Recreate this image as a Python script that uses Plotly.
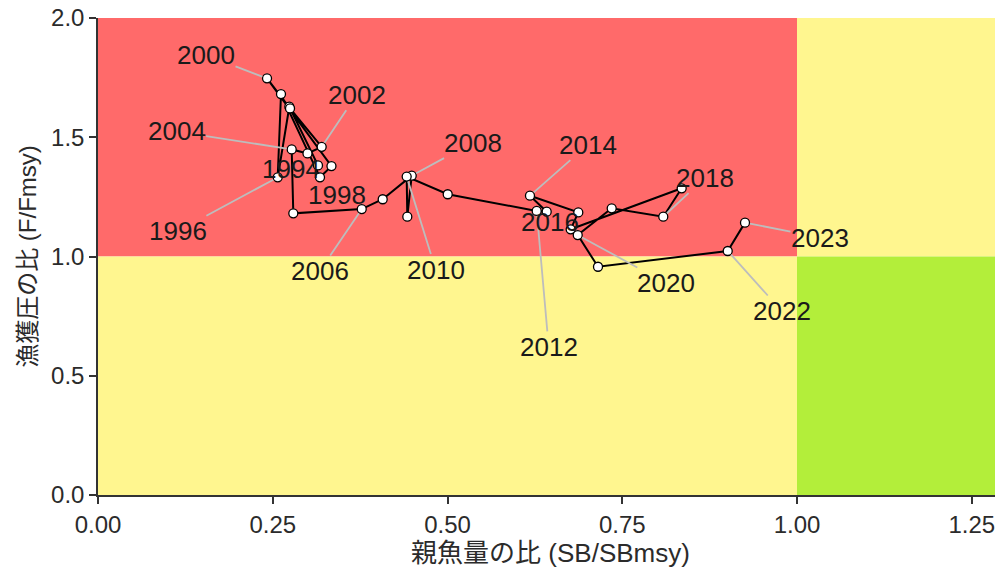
import plotly.graph_objects as go

# ---- data ----
years = list(range(1994, 2024))
sb_ratio = [0.3147, 0.2737, 0.2571, 0.2618, 0.3176, 0.3340, 0.2418, 0.2747, 0.3200, 0.2997,
            0.2771, 0.2794, 0.3773, 0.4073, 0.4488, 0.4425, 0.4416, 0.5003, 0.6276, 0.6419,
            0.6180, 0.6871, 0.6762, 0.8350, 0.8087, 0.7349, 0.6863, 0.7153, 0.9009, 0.9256]
f_ratio = [1.382, 1.628, 1.332, 1.681, 1.332, 1.379, 1.747, 1.621, 1.460, 1.432,
           1.449, 1.181, 1.199, 1.240, 1.339, 1.167, 1.335, 1.261, 1.191, 1.188,
           1.255, 1.185, 1.114, 1.286, 1.167, 1.202, 1.090, 0.957, 1.023, 1.142]
labelled_years = [1994, 1996, 1998, 2000, 2002, 2004, 2006, 2008, 2010, 2012,
                  2014, 2016, 2018, 2020, 2022, 2023]
x_ticks = [0.00, 0.25, 0.50, 0.75, 1.00, 1.25]
y_ticks = [0.0, 0.5, 1.0, 1.5, 2.0]
x_title = "親魚量の比 (SB/SBmsy)"
y_title = "漁獲圧の比 (F/Fmsy)"

# ---- layout / style parameters ----
X_MAX = 1.2947
Y_MAX = 2.0
REF = 1.0
RED = "#FF6A6A"
YELLOW = "#FFF68F"
GREEN = "#B3EE3A"
FONT = "Liberation Sans, Arial, Noto Sans CJK JP, sans-serif"
# label offsets in pixels (label centre relative to point), flag = draw leader
label_offsets = {
    1994: (-27, 4, False), 1996: (-100, 54, True), 1998: (17, 18, False),
    2000: (-61, -23, True), 2002: (35, -52, True), 2004: (-115, -18, True),
    2006: (-42, 62, True), 2008: (61, -33, True), 2010: (29, 93, True),
    2012: (12, 136, True), 2014: (58, -51, True), 2016: (-21, -7, False),
    2018: (42, -39, True), 2020: (88, 48, True), 2022: (54, 60, True),
    2023: (75, 15, True),
}

fig = go.Figure()

# zones
zones = [
    (0, REF, REF, Y_MAX, RED),
    (REF, X_MAX, REF, Y_MAX, YELLOW),
    (0, REF, 0, REF, YELLOW),
    (REF, X_MAX, 0, REF, GREEN),
]
for x0, x1, y0, y1, c in zones:
    fig.add_shape(type="rect", xref="x", yref="y", x0=x0, x1=x1, y0=y0, y1=y1,
                  fillcolor=c, line=dict(width=0), layer="below")

fig.add_trace(go.Scatter(
    x=sb_ratio, y=f_ratio, mode="lines+markers",
    line=dict(color="black", width=2),
    marker=dict(size=9, color="white", line=dict(color="black", width=1.3)),
    hoverinfo="skip", showlegend=False, cliponaxis=False,
))

for yr in labelled_years:
    i = years.index(yr)
    ax, ay, leader = label_offsets[yr]
    fig.add_annotation(
        x=sb_ratio[i], y=f_ratio[i], text=str(yr), showarrow=True,
        ax=ax, ay=ay, arrowhead=0, arrowwidth=1.8, standoff=5,
        arrowcolor="#BDBDBD" if leader else "rgba(0,0,0,0)",
        font=dict(family=FONT, size=26, color="#1a1a1a"),
        borderpad=0,
    )

axis_common = dict(
    showgrid=False, zeroline=False, showline=True, linecolor="#333333", linewidth=1.5,
    ticks="outside", ticklen=7, tickwidth=1.5, tickcolor="#333333",
    tickfont=dict(family=FONT, size=24, color="#2b2b2b"),
    ticklabeloverflow="allow",
)

fig.update_layout(
    width=995, height=564,
    margin=dict(l=90, r=0, t=10, b=77),
    paper_bgcolor="white", plot_bgcolor="white",
    xaxis=dict(range=[0, X_MAX], tickvals=x_ticks,
               ticktext=[f"{v:.2f}" for v in x_ticks],
               automargin="bottom",
               title=dict(text=x_title, standoff=5,
                          font=dict(family=FONT, size=26, color="#2b2b2b")),
               **axis_common),
    yaxis=dict(range=[0, Y_MAX], tickvals=y_ticks,
               ticktext=[f"{v:.1f}" for v in y_ticks],
               automargin="left",
               title=dict(text=y_title, standoff=8,
                          font=dict(family=FONT, size=24, color="#2b2b2b")),
               **axis_common),
)

fig.write_html("out.html")
